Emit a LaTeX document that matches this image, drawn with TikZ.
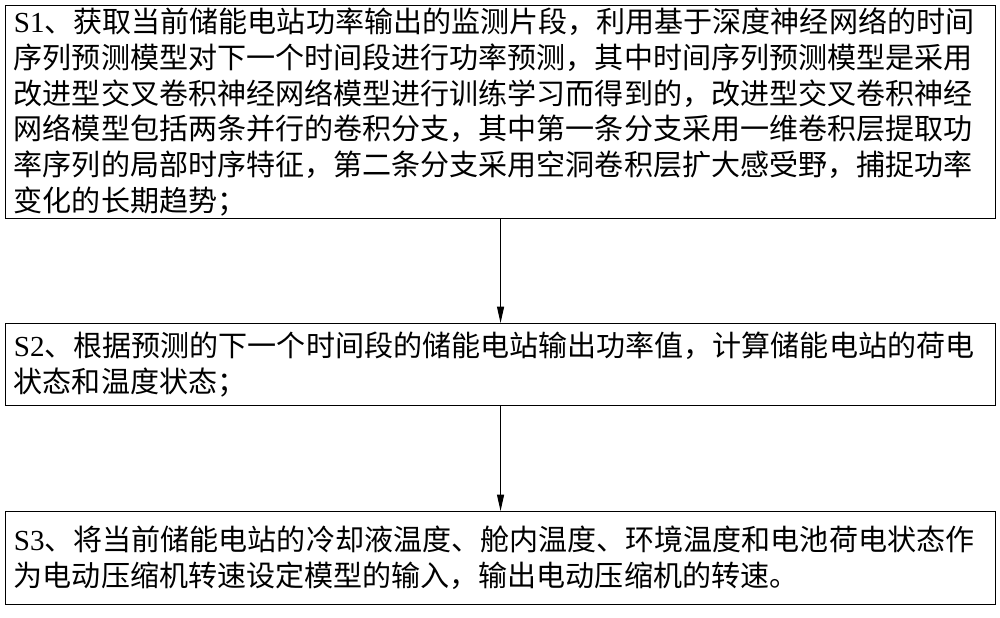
\documentclass[tikz,border=0pt]{standalone}
\usepackage{fontspec}
\setmainfont{Liberation Serif}
\newfontfamily\cjk{Noto Sans CJK SC}
\usetikzlibrary{arrows.meta,positioning}
\tikzset{
  stepbox/.style={draw, line width=0.9pt, anchor=north west, align=left,
    inner xsep=6pt, inner ysep=2pt, text width=29.2cm, minimum width=29.7cm,
    font=\fontsize{24.8}{30.5}\selectfont\cjk},
  flow/.style={-{Triangle[length=14pt,width=6pt]}, line width=0.9pt}
}
\newcommand{\lat}[1]{{\rmfamily\fontspec{Liberation Serif}#1}}
\begin{document}
\begin{tikzpicture}[x=0.03cm,y=-0.03cm]
  \useasboundingbox (0,0) rectangle (1000,618);
  \node[stepbox, minimum height=6.39cm] (S1) at (5,5)
    {\lat{S1}、获取当前储能电站功率输出的监测片段，利用基于深度神经网络的时间\\
     序列预测模型对下一个时间段进行功率预测，其中时间序列预测模型是采用\\
     改进型交叉卷积神经网络模型进行训练学习而得到的，改进型交叉卷积神经\\
     网络模型包括两条并行的卷积分支，其中第一条分支采用一维卷积层提取功\\
     率序列的局部时序特征，第二条分支采用空洞卷积层扩大感受野，捕捉功率\\
     变化的长期趋势；};
  \node[stepbox, minimum height=2.46cm] (S2) at (5,323)
    {\lat{S2}、根据预测的下一个时间段的储能电站输出功率值，计算储能电站的荷电\\
     状态和温度状态；};
  \node[stepbox, minimum height=2.79cm] (S3) at (5,511)
    {\lat{S3}、将当前储能电站的冷却液温度、舱内温度、环境温度和电池荷电状态作\\
     为电动压缩机转速设定模型的输入，输出电动压缩机的转速。};
  \draw[flow] (S1) -- (S2);
  \draw[flow] (S2) -- (S3);
\end{tikzpicture}
\end{document}
